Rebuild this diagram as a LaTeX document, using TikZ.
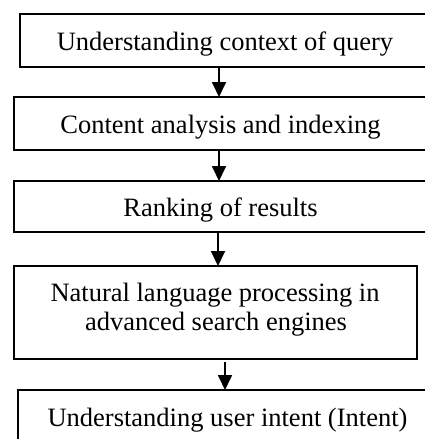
\documentclass[tikz,border=0pt]{standalone}
\usepackage{fontspec}
\setmainfont{Liberation Serif}
\usetikzlibrary{arrows.meta}
\begin{document}
\begin{tikzpicture}[x=1pt,y=-1pt,
  box/.style={draw=black, line width=1.6pt, rectangle, inner sep=0pt, outer sep=0pt},
  lbl/.style={inner sep=0pt, anchor=base, font=\fontsize{26.5}{30}\selectfont},
  arr/.style={line width=1.8pt, -{Triangle[width=14pt,length=15pt]}}]
  \fill[white] (0,0) rectangle (425,439);
  \useasboundingbox (0,0) rectangle (425,439);
  \begin{scope}
  \clip (0,0) rectangle (425,439);

  % process boxes
  \node[box, minimum width=410pt, minimum height=53pt] (b1) at (225,40.5) {};
  \node[box, minimum width=412pt, minimum height=53pt] (b2) at (220,123.5) {};
  \node[box, minimum width=414pt, minimum height=51pt] (b3) at (221,206.5) {};
  \node[box, minimum width=403pt, minimum height=93pt] (b4) at (215.5,312.5) {};
  \node[box, minimum width=418pt, minimum height=54pt] (b5) at (227,417) {};

  % box captions
  \node[lbl] (t1) at (225,50) {Understanding context of query};
  \node[lbl] (t2) at (220.5,133) {Content analysis and indexing};
  \node[lbl] (t3) at (220.5,216) {Ranking of results};
  \node[lbl] (t4a) at (215,301) {Natural language processing in};
  \node[lbl] (t4b) at (216,330) {advanced search engines};
  \node[lbl] (t5) at (227.5,426) {Understanding user intent (Intent)};

  % columns of the flow arrows
  \coordinate (ca) at (219,0);
  \coordinate (cb) at (218,0);
  \coordinate (cc) at (225,0);
  \coordinate (s4) at ([yshift=-3pt]b4.south);

  % flow arrows
  \draw[arr] (b1.south -| ca) -- (b2.north -| ca);
  \draw[arr] (b2.south -| ca) -- (b3.north -| ca);
  \draw[arr] (b3.south -| cb) -- (b4.north -| cb);
  \draw[arr] (s4 -| cc) -- (b5.north -| cc);
  \end{scope}
\end{tikzpicture}
\end{document}
